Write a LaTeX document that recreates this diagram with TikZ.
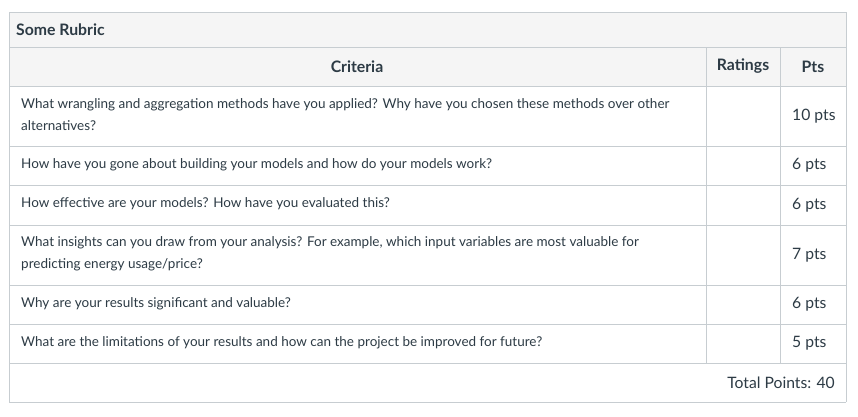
\documentclass[tikz,border=0pt]{standalone}
\usepackage{fontspec}
\setmainfont{Lato}
\definecolor{txt}{HTML}{2D3B45}
\definecolor{grid}{HTML}{C7CDD1}
\definecolor{hbg}{HTML}{F5F5F5}
\begin{document}
\begin{tikzpicture}[x=1pt,y=-1pt,
  cell/.style={inner sep=0pt, text=txt, font=\fontsize{13.5}{22}\selectfont, anchor=west, align=left},
  hdr/.style={inner sep=0pt, text=txt, font=\fontsize{15.8}{18}\bfseries\selectfont},
  pts/.style={inner sep=0pt, text=txt, font=\fontsize{15.7}{18}\selectfont, anchor=west},
  line/.style={draw=grid, line width=1pt}]
\useasboundingbox (0,0) rectangle (858,416);
\fill[hbg] (9,12) rectangle (846,86);
\fill[white] (9,86) rectangle (846,402);
% horizontal lines
\foreach \y in {12,47,86,146,185,225,285,324,363,402}
  \draw[line] (9,\y) -- (846,\y);
\draw[line] (9,12) -- (9,402);
\draw[line] (846,12) -- (846,402);
\draw[line] (706,47) -- (706,363);
\draw[line] (780,47) -- (780,363);
% header texts
\node[hdr, anchor=west] (title) at (16,29.5) {Some Rubric};
\node[hdr] (crit) at (357,66.5) {Criteria};
\node[hdr] (rat) at (743,66.5) {Ratings};
\node[hdr] (ptsh) at (813,66.5) {Pts};
% rows
\node[cell] (c1) at (21,115) {What wrangling and aggregation methods have you applied? Why have you chosen these methods over other\\alternatives?};
\node[pts] (p1) at (792,116) {10 pts};
\node[cell] (c2) at (21,164.5) {How have you gone about building your models and how do your models work?};
\node[pts] (p2) at (792,165.5) {6 pts};
\node[cell] (c3) at (21,204) {How effective are your models? How have you evaluated this?};
\node[pts] (p3) at (792,205) {6 pts};
\node[cell] (c4) at (21,254) {What insights can you draw from your analysis? For example, which input variables are most valuable for\\predicting energy usage/price?};
\node[pts] (p4) at (792,255) {7 pts};
\node[cell] (c5) at (21,303.5) {Why are your results significant and valuable?};
\node[pts] (p5) at (792,304.5) {6 pts};
\node[cell] (c6) at (21,342.5) {What are the limitations of your results and how can the project be improved for future?};
\node[pts] (p6) at (792,343.5) {5 pts};
\node[pts, anchor=east] (tot) at (835,382.5) {Total Points: 40};
\end{tikzpicture}
\end{document}
